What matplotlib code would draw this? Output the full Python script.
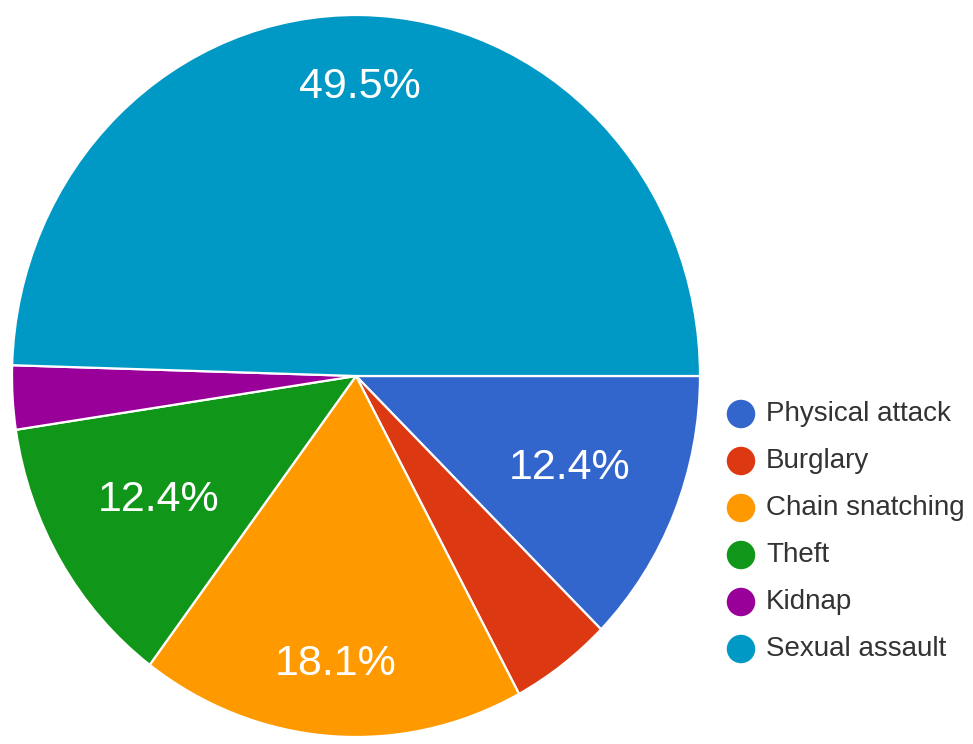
import matplotlib.pyplot as plt
import numpy as np

# Part 1: data

categories = ["Physical attack", "Burglary", "Chain snatching", "Theft", "Kidnap", "Sexual assault"]
counts = [13, 5, 19, 13, 3, 52]
colors = ["#3366cc", "#dc3912", "#ff9900", "#109618", "#990099", "#0099c6"]

plt.rcParams['font.family'] = ['Liberation Sans', 'DejaVu Sans']

W, H = 973, 744
fig = plt.figure(figsize=(W / 100, H / 100), dpi=100)

# the source image is a little stretched vertically, so the pie is an ellipse
cx, cy, rx, ry = 356, 376, 344, 361
ax = fig.add_axes([(cx - rx) / W, (H - cy - ry) / H, 2 * rx / W, 2 * ry / H])

wedges, _ = ax.pie(counts, colors=colors, startangle=0, counterclock=False,
                   radius=1.0, wedgeprops=dict(edgecolor="white", linewidth=1.6))
ax.set_xlim(-1, 1)
ax.set_ylim(-1, 1)
ax.set_aspect("auto")
ax.axis("off")

# percentage labels, hidden for thin slices
total = sum(counts)
for w, c in zip(wedges, counts):
    pct = 100.0 * c / total
    if pct < 5:
        continue
    span = abs(w.theta2 - w.theta1)
    mid = np.deg2rad((w.theta1 + w.theta2) / 2)
    dist = 0.8 if span > 60 else 0.67
    ax.text(dist * np.cos(mid), dist * np.sin(mid), "%.1f%%" % pct,
            ha="center", va="center", color="white", fontsize=31)

# Part 2: legend

lax = fig.add_axes([0, 0, 1, 1])
lax.set_xlim(0, W)
lax.set_ylim(H, 0)
lax.axis("off")

y0, step = 414, 47
for i, (lab, col) in enumerate(zip(categories, colors)):
    y = y0 + i * step
    lax.scatter([741], [y], s=420, color=col, edgecolors="none")
    lax.text(766, y, lab, ha="left", va="center", fontsize=20, color="#333333")

fig.savefig("out.png", dpi=100)
